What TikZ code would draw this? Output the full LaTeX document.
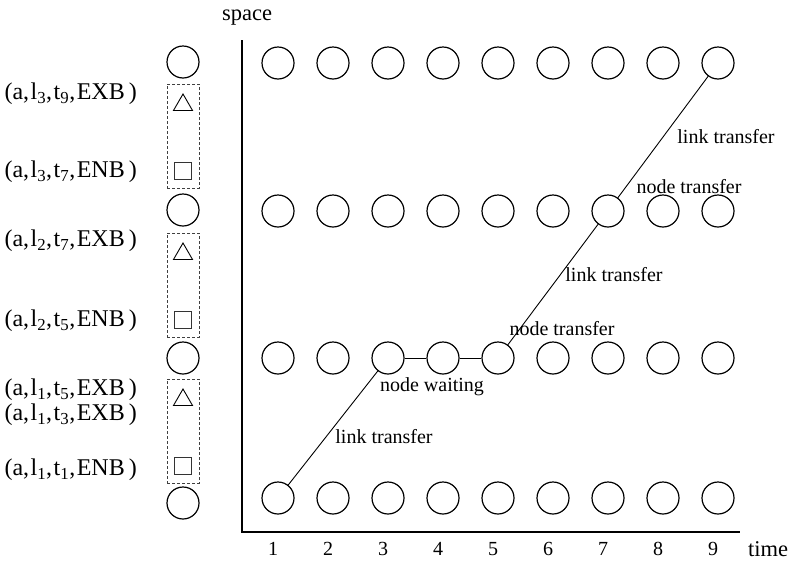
\documentclass[tikz,border=0pt]{standalone}
\usepackage{fontspec}
\setmainfont{Liberation Serif}
\usetikzlibrary{shapes.geometric}
\newcommand\mytup[3]{(a,\hspace{1.5pt}l\textsubscript{#1},\hspace{1.5pt}t\textsubscript{#2},\hspace{1.5pt}#3\hspace{4pt})}
\begin{document}
\begin{tikzpicture}[x=1pt,y=-1pt,
  st/.style={circle,draw,line width=1.2pt,minimum size=32pt,inner sep=0pt},
  lab/.style={font=\fontsize{20}{23}\selectfont,inner sep=0pt},
  biglab/.style={font=\fontsize{22.5}{25}\selectfont,inner sep=0pt},
  tuplab/.style={font=\fontsize{24}{27}\selectfont,inner sep=0pt,anchor=east},
  conn/.style={line width=0.9pt},
  axisline/.style={line width=1.3pt},
  dbox/.style={draw=black!75,densely dashed,line width=0.8pt,minimum width=32pt,minimum height=104pt,inner sep=0pt},
  tri/.style={regular polygon,regular polygon sides=3,draw,line width=0.9pt,minimum size=22pt,inner sep=0pt},
  sq/.style={rectangle,draw=black!80,line width=0.9pt,minimum size=17pt,inner sep=0pt}]
\useasboundingbox (0,0) rectangle (799,571);
% grid of states
\foreach \c in {1,...,9}{
  \foreach \r/\y in {1/498,2/358,3/211,4/63}{
    \node[st] (n\c-\r) at ({278+55*(\c-1)},\y) {};
  }
  \node[lab] (t\c) at ({273+55*(\c-1)},549) {\c};
}
% axes
\coordinate (ytop) at (242,40);
\coordinate (orig) at (242,532);
\coordinate (xend) at (740,532);
\draw[axisline] (ytop) -- (orig) -- (xend);
\node[biglab] (spacelab) at (247,18) {space};
\node[biglab] (timelab) at (768,549) {time};
% path
\draw[conn] (n1-1) -- (n3-2);
\draw[conn] (n3-2) -- (n4-2);
\draw[conn] (n4-2) -- (n5-2);
\draw[conn] (n5-2) -- (n7-3);
\draw[conn] (n7-3) -- (n9-4);
\node[lab] (lt1) at (384,437) {link transfer};
\node[lab] (nw) at (432,387) {node waiting};
\node[lab] (nt2) at (562,329) {node transfer};
\node[lab] (lt2) at (614,275) {link transfer};
\node[lab] (nt3) at (689,187) {node transfer};
\node[lab] (lt3) at (726,137) {link transfer};
% left column
\foreach \i/\y in {1/62,2/210,3/358,4/503}{
  \node[st] (L\i) at (183,\y) {};
}
\foreach \i/\t in {1/84,2/233,3/379}{
  \node[dbox] (B\i) at (183,\t+52) {};
  \node[tri] (T\i) at (183,\t+21) {};
  \node[sq] (S\i) at (183,\t+87) {};
}
\node[tuplab] (a1) at (137,94) {\mytup{3}{9}{EXB}};
\node[tuplab] (a2) at (137,172) {\mytup{3}{7}{ENB}};
\node[tuplab] (a3) at (137,241) {\mytup{2}{7}{EXB}};
\node[tuplab] (a4) at (137,321) {\mytup{2}{5}{ENB}};
\node[tuplab] (a5) at (137,390) {\mytup{1}{5}{EXB}};
\node[tuplab] (a6) at (137,415) {\mytup{1}{3}{EXB}};
\node[tuplab] (a7) at (137,470) {\mytup{1}{1}{ENB}};
\end{tikzpicture}
\end{document}
